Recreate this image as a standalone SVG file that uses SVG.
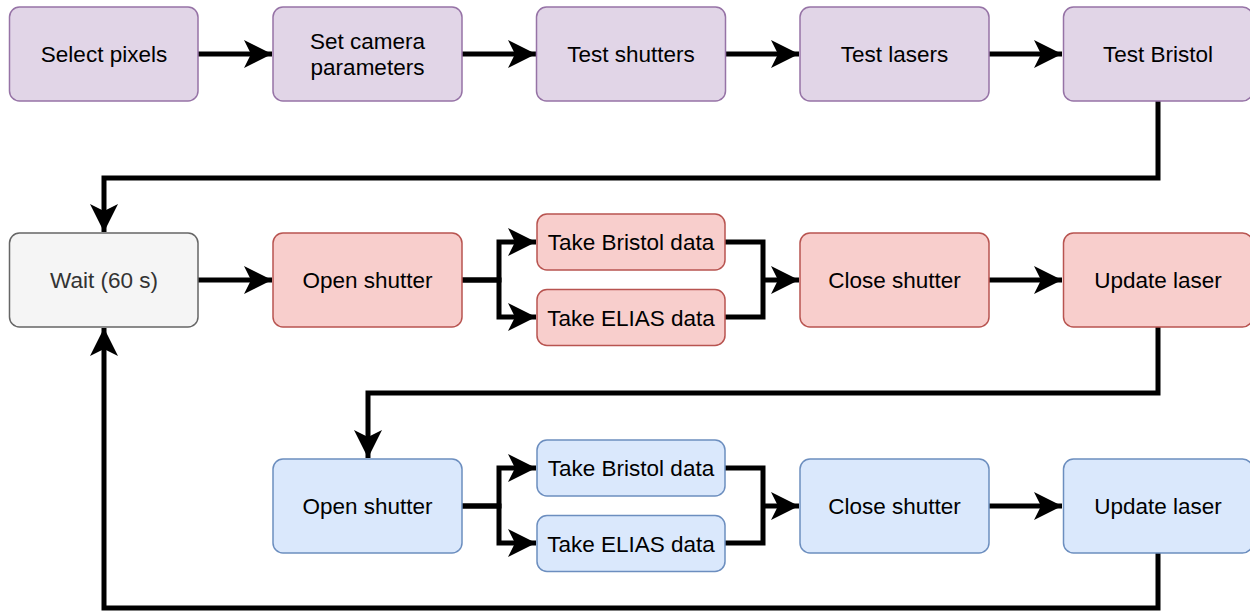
<svg xmlns="http://www.w3.org/2000/svg" width="1250" height="612" viewBox="0 0 1250 612">
  <defs>
    <marker id="arrow" markerUnits="userSpaceOnUse" markerWidth="30" markerHeight="32" viewBox="-29 -15 30 30" refX="0" refY="0" orient="auto" overflow="visible">
      <path d="M0,0 L-28,-14 L-21,0 L-28,14 Z" fill="#000"/>
    </marker>
    <style>
      .box { stroke-width: 1.5; }
      .purple { fill: #e1d5e7; stroke: #9673a6; }
      .red { fill: #f8cecc; stroke: #b85450; }
      .blue { fill: #dae8fc; stroke: #6c8ebf; }
      .gray { fill: #f5f5f5; stroke: #666666; }
      .lbl { font-family: "Liberation Sans", Arial, Helvetica, sans-serif; font-size: 22.5px; fill: #000; text-anchor: middle; }
      .lbl.muted { fill: #333333; }
      .edge { fill: none; stroke: #000; stroke-width: 5; stroke-linejoin: miter; stroke-linecap: butt; }
      .arr { marker-end: url(#arrow); }
    </style>
  </defs>

  <!-- connectors -->
  <g id="connectors">
    <path class="edge arr" d="M198,54 H272"/>
    <path class="edge arr" d="M462,54 H536"/>
    <path class="edge arr" d="M725,54 H799"/>
    <path class="edge arr" d="M989,54 H1062"/>
    <path class="edge arr" d="M1158,101 V178 H104 V232"/>
    <path class="edge arr" d="M198,280 H272"/>
    <path class="edge arr" d="M462,280 H499 V242 H536"/>
    <path class="edge arr" d="M462,280 H499 V317 H536"/>
    <path class="edge" d="M725,242 H763 V317 H725"/>
    <path class="edge arr" d="M763,280 H799"/>
    <path class="edge arr" d="M989,280 H1062"/>
    <path class="edge arr" d="M1158,327 V393 H368 V458"/>
    <path class="edge arr" d="M462,506 H499 V468 H536"/>
    <path class="edge arr" d="M462,506 H499 V543 H536"/>
    <path class="edge" d="M725,468 H763 V543 H725"/>
    <path class="edge arr" d="M763,506 H799"/>
    <path class="edge arr" d="M989,506 H1062"/>
    <path class="edge arr" d="M1158,553 V608 H104 V328"/>
  </g>

  <!-- setup row -->
  <g id="select-pixels">
    <rect class="box purple" x="9.5" y="7" width="188.5" height="94" rx="10"/>
    <text class="lbl" x="104" y="62">Select pixels</text>
  </g>
  <g id="set-camera">
    <rect class="box purple" x="273" y="7" width="189" height="94" rx="10"/>
    <text class="lbl" x="367.5" y="48.5">Set camera</text>
    <text class="lbl" x="367.5" y="75">parameters</text>
  </g>
  <g id="test-shutters">
    <rect class="box purple" x="536.5" y="7" width="189" height="94" rx="10"/>
    <text class="lbl" x="631" y="62">Test shutters</text>
  </g>
  <g id="test-lasers">
    <rect class="box purple" x="800" y="7" width="189" height="94" rx="10"/>
    <text class="lbl" x="894.5" y="62">Test lasers</text>
  </g>
  <g id="test-bristol">
    <rect class="box purple" x="1063.5" y="7" width="189" height="94" rx="10"/>
    <text class="lbl" x="1158" y="62">Test Bristol</text>
  </g>

  <!-- wait -->
  <g id="wait">
    <rect class="box gray" x="9.5" y="233" width="188.5" height="94" rx="10"/>
    <text class="lbl muted" x="104" y="288">Wait (60 s)</text>
  </g>

  <!-- first laser cycle -->
  <g id="open-shutter-1">
    <rect class="box red" x="273" y="233" width="189" height="94" rx="10"/>
    <text class="lbl" x="367.5" y="288">Open shutter</text>
  </g>
  <g id="bristol-data-1">
    <rect class="box red" x="537" y="214" width="188" height="56" rx="10"/>
    <text class="lbl" x="631" y="250">Take Bristol data</text>
  </g>
  <g id="elias-data-1">
    <rect class="box red" x="537" y="289.5" width="188" height="56" rx="10"/>
    <text class="lbl" x="631" y="325.5">Take ELIAS data</text>
  </g>
  <g id="close-shutter-1">
    <rect class="box red" x="800" y="233" width="189" height="94" rx="10"/>
    <text class="lbl" x="894.5" y="288">Close shutter</text>
  </g>
  <g id="update-laser-1">
    <rect class="box red" x="1063.5" y="233" width="189" height="94" rx="10"/>
    <text class="lbl" x="1158" y="288">Update laser</text>
  </g>

  <!-- second laser cycle -->
  <g id="open-shutter-2">
    <rect class="box blue" x="273" y="459" width="189" height="94" rx="10"/>
    <text class="lbl" x="367.5" y="514">Open shutter</text>
  </g>
  <g id="bristol-data-2">
    <rect class="box blue" x="537" y="440" width="188" height="56" rx="10"/>
    <text class="lbl" x="631" y="476">Take Bristol data</text>
  </g>
  <g id="elias-data-2">
    <rect class="box blue" x="537" y="515.5" width="188" height="56" rx="10"/>
    <text class="lbl" x="631" y="551.5">Take ELIAS data</text>
  </g>
  <g id="close-shutter-2">
    <rect class="box blue" x="800" y="459" width="189" height="94" rx="10"/>
    <text class="lbl" x="894.5" y="514">Close shutter</text>
  </g>
  <g id="update-laser-2">
    <rect class="box blue" x="1063.5" y="459" width="189" height="94" rx="10"/>
    <text class="lbl" x="1158" y="514">Update laser</text>
  </g>
</svg>
